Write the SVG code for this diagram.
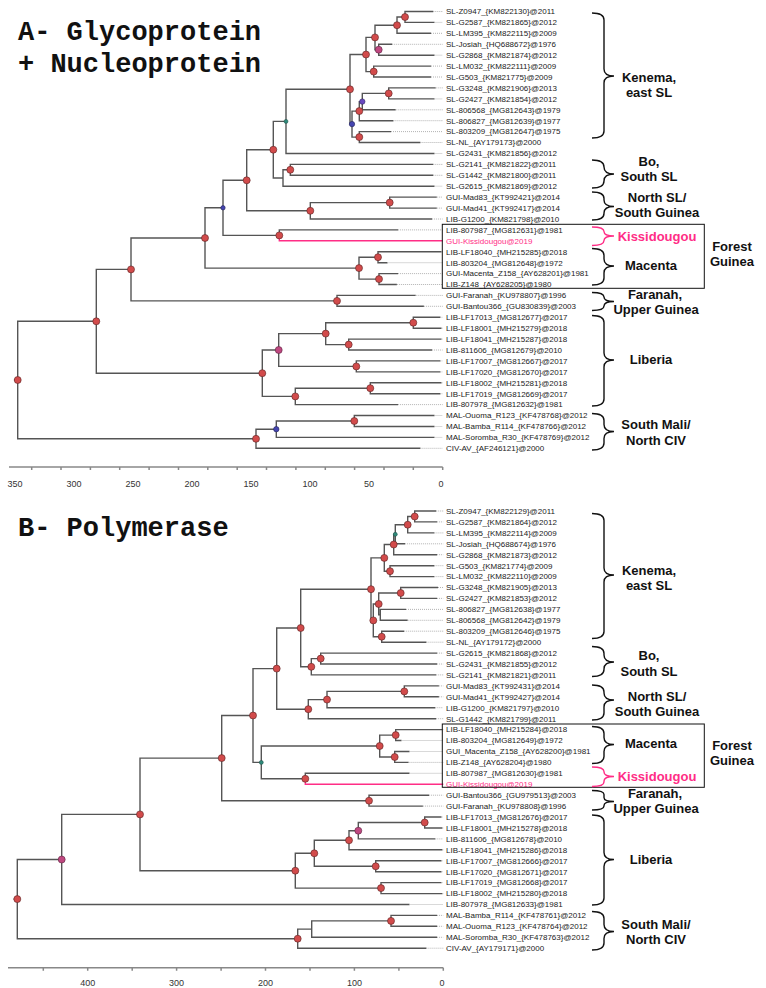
<svg xmlns="http://www.w3.org/2000/svg" width="766" height="988" viewBox="0 0 766 988">
<style>
.br{fill:none;stroke:#555;stroke-width:1.4}
.dt{fill:none;stroke:#aaa;stroke-width:0.9;stroke-dasharray:1 1}
.pk{fill:none;stroke:#ff2d86;stroke-width:1.4}
.n{fill:#d24b4b;stroke:#5b2323;stroke-width:0.6}
.m{fill:#c04880;stroke:#5b2340;stroke-width:0.6}
.bl{fill:#4646b0;stroke:#22225b;stroke-width:0.6}
.pu{fill:#6a4ac0;stroke:#2f2260;stroke-width:0.6}
.tl{fill:#2f8a7a;stroke:#1d4d45;stroke-width:0.5}
.tip{font-family:"Liberation Sans",Arial,sans-serif;font-size:8px;fill:#222}
.tipk{font-family:"Liberation Sans",Arial,sans-serif;font-size:8px;fill:#ff2d86}
.grp{font-family:"Liberation Sans",Arial,sans-serif;font-size:13px;font-weight:bold;fill:#111;text-anchor:middle}
.grpk{font-family:"Liberation Sans",Arial,sans-serif;font-size:13px;font-weight:bold;fill:#ff2d86;text-anchor:middle}
.brc{fill:none;stroke:#111;stroke-width:1.4}
.brck{fill:none;stroke:#ff2d86;stroke-width:1.4}
.box{fill:none;stroke:#111;stroke-width:1}
.ax{fill:none;stroke:#888;stroke-width:1.5}
.axl{font-family:"Liberation Sans",Arial,sans-serif;font-size:9px;fill:#333;text-anchor:middle}
.title{font-family:"Liberation Mono","Courier New",monospace;font-size:27px;font-weight:bold;fill:#111}
</style>
<rect width="766" height="988" fill="#fff"/>

<!-- ================= PANEL A ================= -->
<g id="titleA">
<text class="title" x="18" y="40">A- Glycoprotein</text>
<text class="title" x="18" y="72">+ Nucleoprotein</text>
</g>

<g id="connectorsA">
<path class="br" d="M433.3 11.5H405V22.4H434.5M405 17H397V33.3H431M392.2 44.3H378.7V55.2H434.5M397 25.2H375V49.7H378.7M431 66.1H373.7V77H431M375 37.4H366V71.6H373.7M435.7 87.9H388.7V98.9H434.5M388.7 93.4H362.3V109.8H395.7M362.3 101.6H359.3V120.7H393.4M391 131.6H359.3V142.5H420.4M359.3 111.1H352V137.1H359.3M366 54.5H350V124.1H352M350 89.3H286V153.5H434.5M433.3 164.4H290.3V175.3H433.3M290.3 169.8H283V186.2H434.5M286 121.4H273.3V178H283M436.8 197.1H389.7V208.1H436.8M389.7 202.6H310.3V219H432.1M273.3 149.7H246.7V210.8H310.3M398.1 229.9H279.3V235.4M246.7 180.3H223V235.4H279.3M441.5 251.7H378V262.7H387.5M398.1 273.6H379V284.5H396.9M378 257.2H359V279.1H379M223 207.8H205V268.1H359M415.7 295.4H337V306.3H423.9M205 238H131V300.9H337M440.4 317.3H413.3V328.2H441.5M441.5 339.1H348.7V350H432.1M413.3 322.7H325.7V344.6H348.7M440.4 360.9H356.3V371.9H440.4M325.7 333.6H278.7V366.4H356.3M441.5 382.8H370.3V393.7H440.4M370.3 388.2H295.3V404.6H398.1M278.7 350H262.3V396.4H295.3M131 269.4H96.3V373.2H262.3M434.5 415.5H354.3V426.5H434.5M354.3 421H276.3V437.4H434.5M276.3 429.2H256V448.3H420.4M96.3 321.3H17.7V438.8H256M14 380H17.7"/>
<path class="pk" d="M279.3 235.4V240.8H442.7"/>
<path class="dt" d="M433.3 11.5H442.7M434.5 22.4H442.7M431 33.3H442.7M392.2 44.3H442.7M434.5 55.2H442.7M431 66.1H442.7M431 77H442.7M435.7 87.9H442.7M434.5 98.9H442.7M395.7 109.8H442.7M393.4 120.7H442.7M391 131.6H442.7M420.4 142.5H442.7M434.5 153.5H442.7M433.3 164.4H442.7M433.3 175.3H442.7M434.5 186.2H442.7M436.8 197.1H442.7M436.8 208.1H442.7M432.1 219H442.7M398.1 229.9H442.7M441.5 251.7H442.7M387.5 262.7H442.7M398.1 273.6H442.7M396.9 284.5H442.7M415.7 295.4H442.7M423.9 306.3H442.7M440.4 317.3H442.7M441.5 328.2H442.7M441.5 339.1H442.7M432.1 350H442.7M440.4 360.9H442.7M440.4 371.9H442.7M441.5 382.8H442.7M440.4 393.7H442.7M398.1 404.6H442.7M434.5 415.5H442.7M434.5 426.5H442.7M434.5 437.4H442.7M420.4 448.3H442.7"/>
</g>

<g id="nodesA">
<circle id="a1" class="n" cx="405" cy="17" r="3.5"/>
<circle id="a2" class="n" cx="397" cy="25.2" r="3.5"/>
<circle id="a3" class="m" cx="378.7" cy="49.7" r="3.5"/>
<circle id="a4" class="n" cx="375" cy="37.4" r="3.5"/>
<circle id="a5" class="n" cx="373.7" cy="71.6" r="3.5"/>
<circle id="a6" class="n" cx="366" cy="54.5" r="3.5"/>
<circle id="a7" class="n" cx="388.7" cy="93.4" r="3.5"/>
<circle id="a8" class="pu" cx="362.3" cy="101.6" r="2.7"/>
<circle id="a9" class="n" cx="359.3" cy="111.1" r="3.5"/>
<circle id="a10" class="n" cx="359.3" cy="137.1" r="3.5"/>
<circle id="a11" class="bl" cx="352" cy="124.1" r="2.7"/>
<circle id="a12" class="n" cx="350" cy="89.3" r="3.5"/>
<circle id="a13" class="tl" cx="286" cy="121.4" r="2"/>
<circle id="a14" class="n" cx="290.3" cy="169.8" r="3.5"/>
<circle id="a16" class="n" cx="273.3" cy="149.7" r="3.5"/>
<circle id="a17" class="n" cx="389.7" cy="202.6" r="3.5"/>
<circle id="a18" class="n" cx="310.3" cy="210.8" r="3.5"/>
<circle id="a19" class="n" cx="246.7" cy="180.3" r="3.5"/>
<circle id="a20" class="n" cx="279.3" cy="235.4" r="3.5"/>
<circle id="a21" class="bl" cx="223" cy="207.8" r="2.2"/>
<circle id="a22" class="n" cx="378" cy="257.2" r="3.5"/>
<circle id="a23" class="n" cx="379" cy="279.1" r="3.5"/>
<circle id="a24" class="n" cx="359" cy="268.1" r="3.5"/>
<circle id="a25" class="n" cx="205" cy="238" r="3.5"/>
<circle id="a26" class="n" cx="337" cy="300.9" r="3.5"/>
<circle id="a27" class="n" cx="131" cy="269.4" r="3.5"/>
<circle id="a28" class="n" cx="413.3" cy="322.7" r="3.5"/>
<circle id="a29" class="n" cx="348.7" cy="344.6" r="3.5"/>
<circle id="a30" class="n" cx="325.7" cy="333.6" r="3.5"/>
<circle id="a31" class="n" cx="356.3" cy="366.4" r="3.5"/>
<circle id="a32" class="m" cx="278.7" cy="350" r="3.5"/>
<circle id="a33" class="n" cx="370.3" cy="388.2" r="3.5"/>
<circle id="a34" class="n" cx="295.3" cy="396.4" r="3.5"/>
<circle id="a35" class="n" cx="262.3" cy="373.2" r="3.5"/>
<circle id="a36" class="n" cx="96.3" cy="321.3" r="3.5"/>
<circle id="a37" class="n" cx="354.3" cy="421" r="3.5"/>
<circle id="a38" class="bl" cx="276.3" cy="429.2" r="2.7"/>
<circle id="a39" class="n" cx="256" cy="438.8" r="3.5"/>
<circle id="a40" class="n" cx="17.7" cy="380" r="3.5"/>
</g>

<g id="tipsA">
<text class="tip" x="446" y="14.3">SL-Z0947_{KM822130}@2011</text>
<text class="tip" x="446" y="25.2">SL-G2587_{KM821865}@2012</text>
<text class="tip" x="446" y="36.1">SL-LM395_{KM822115}@2009</text>
<text class="tip" x="446" y="47.1">SL-Josiah_{HQ688672}@1976</text>
<text class="tip" x="446" y="58">SL-G2868_{KM821874}@2012</text>
<text class="tip" x="446" y="68.9">SL-LM032_{KM822111}@2009</text>
<text class="tip" x="446" y="79.8">SL-G503_{KM821775}@2009</text>
<text class="tip" x="446" y="90.7">SL-G3248_{KM821906}@2013</text>
<text class="tip" x="446" y="101.7">SL-G2427_{KM821854}@2012</text>
<text class="tip" x="446" y="112.6">SL-806568_{MG812643}@1979</text>
<text class="tip" x="446" y="123.5">SL-806827_{MG812639}@1977</text>
<text class="tip" x="446" y="134.4">SL-803209_{MG812647}@1975</text>
<text class="tip" x="446" y="145.3">SL-NL_{AY179173}@2000</text>
<text class="tip" x="446" y="156.3">SL-G2431_{KM821856}@2012</text>
<text class="tip" x="446" y="167.2">SL-G2141_{KM821822}@2011</text>
<text class="tip" x="446" y="178.1">SL-G1442_{KM821800}@2011</text>
<text class="tip" x="446" y="189">SL-G2615_{KM821869}@2012</text>
<text class="tip" x="446" y="199.9">GUI-Mad83_{KT992421}@2014</text>
<text class="tip" x="446" y="210.9">GUI-Mad41_{KT992417}@2014</text>
<text class="tip" x="446" y="221.8">LIB-G1200_{KM821798}@2010</text>
<text class="tip" x="446" y="232.7">LIB-807987_{MG812631}@1981</text>
<text class="tipk" x="446" y="243.6">GUI-Kissidougou@2019</text>
<text class="tip" x="446" y="254.5">LIB-LF18040_{MH215285}@2018</text>
<text class="tip" x="446" y="265.5">LIB-803204_{MG812648}@1972</text>
<text class="tip" x="446" y="276.4">GUI-Macenta_Z158_{AY628201}@1981</text>
<text class="tip" x="446" y="287.3">LIB-Z148_{AY628205}@1980</text>
<text class="tip" x="446" y="298.2">GUI-Faranah_{KU978807}@1996</text>
<text class="tip" x="446" y="309.1">GUI-Bantou366_{GU830839}@2003</text>
<text class="tip" x="446" y="320.1">LIB-LF17013_{MG812677}@2017</text>
<text class="tip" x="446" y="331">LIB-LF18001_{MH215279}@2018</text>
<text class="tip" x="446" y="341.9">LIB-LF18041_{MH215287}@2018</text>
<text class="tip" x="446" y="352.8">LIB-811606_{MG812679}@2010</text>
<text class="tip" x="446" y="363.7">LIB-LF17007_{MG812667}@2017</text>
<text class="tip" x="446" y="374.7">LIB-LF17020_{MG812670}@2017</text>
<text class="tip" x="446" y="385.6">LIB-LF18002_{MH215281}@2018</text>
<text class="tip" x="446" y="396.5">LIB-LF17019_{MG812669}@2017</text>
<text class="tip" x="446" y="407.4">LIB-807978_{MG812632}@1981</text>
<text class="tip" x="446" y="418.3">MAL-Ouoma_R123_{KF478768}@2012</text>
<text class="tip" x="446" y="429.3">MAL-Bamba_R114_{KF478766}@2012</text>
<text class="tip" x="446" y="440.2">MAL-Soromba_R30_{KF478769}@2012</text>
<text class="tip" x="446" y="451.1">CIV-AV_{AF246121}@2000</text>
</g>

<g id="axisA">
<path class="ax" d="M9 467H442.7"/>
<path class="ax" d="M442.7 467v3M413.3 467v3M384 467v3M354.6 467v3M325.3 467v3M295.9 467v3M266.5 467v3M237.2 467v3M207.8 467v3M178.5 467v3M149.1 467v3M119.7 467v3M90.4 467v3M61 467v3M31.7 467v3"/>
<text class="axl" x="15" y="487">350</text>
<text class="axl" x="74" y="487">300</text>
<text class="axl" x="133" y="487">250</text>
<text class="axl" x="192" y="487">200</text>
<text class="axl" x="251" y="487">150</text>
<text class="axl" x="310" y="487">100</text>
<text class="axl" x="369" y="487">50</text>
<text class="axl" x="441" y="487">0</text>
</g>

<g id="boxA"><rect class="box" x="442.3" y="224.3" width="262" height="64"/></g>
<g id="grpA-kenema"><path class="brc" d="M592 13Q604 13 604 20V69Q604 76 614 76Q604 76 604 83V131Q604 138 592 138"/><text class="grp" x="649" y="82">Kenema,</text><text class="grp" x="649" y="97">east SL</text></g>
<g id="grpA-bo"><path class="brc" d="M592 160Q604 160 604 167Q604 174 614 174Q604 174 604 181Q604 188 592 188"/><text class="grp" x="649" y="166">Bo,</text><text class="grp" x="649" y="181">South SL</text></g>
<g id="grpA-north"><path class="brc" d="M592 192Q604 192 604 198.5V200Q604 206.5 614 206.5Q604 206.5 604 213V213.5Q604 220 592 220"/><text class="grp" x="657" y="202">North SL/</text><text class="grp" x="657" y="217">South Guinea</text></g>
<g id="grpA-kiss"><path class="brck" d="M592 227Q604 227 604 231.5Q604 236 614 236Q604 236 604 240.5Q604 245.5 592 245.5"/><text class="grpk" x="657" y="240.5">Kissidougou</text></g>
<g id="grpA-macenta"><path class="brc" d="M592 248.5Q604 248.5 604 255.5V259Q604 266 614 266Q604 266 604 273V278Q604 285 592 285"/><text class="grp" x="651" y="270">Macenta</text></g>
<g id="grpA-forest"><text class="grp" x="732" y="250.5">Forest</text><text class="grp" x="732" y="265.5">Guinea</text></g>
<g id="grpA-faranah"><path class="brc" d="M592 292.5Q604 292.5 604 297Q604 301.5 614 301.5Q604 301.5 604 306Q604 310.5 592 310.5"/><text class="grp" x="655" y="298.5">Faranah,</text><text class="grp" x="656" y="313.5">Upper Guinea</text></g>
<g id="grpA-liberia"><path class="brc" d="M592 315.5Q604 315.5 604 322.5V353Q604 360 614 360Q604 360 604 367V399Q604 406 592 406"/><text class="grp" x="651" y="363.5">Liberia</text></g>
<g id="grpA-mali"><path class="brc" d="M592 413.5Q604 413.5 604 420.5V424.5Q604 431.5 614 431.5Q604 431.5 604 438.5V443Q604 450 592 450"/><text class="grp" x="656" y="428.5">South Mali/</text><text class="grp" x="656" y="444.5">North CIV</text></g>

<!-- ================= PANEL B ================= -->
<g id="titleB"><text class="title" x="18" y="536">B- Polymerase</text></g>

<g id="connectorsB">
<path class="br" d="M436.2 511H414.7V521.9H437.1M414.7 516.5H407.7V532.9H434.4M407.7 524.7H395.3V543.8H405.1M395.3 534.3H393.7V554.7H437.1M434.4 565.7H390V576.6H434.4M393.7 544.5H384.3V571.2H390M438 587.5H400.7V598.4H437.1M406 609.4H380.3V620.3H407.7M400.7 593H378.7V614.9H380.3M404.2 631.2H381.7V642.2H426.4M378.7 604H373.3V636.7H381.7M384.3 557.9H371V620.4H373.3M437.1 653.1H320.7V664H437.1M320.7 658.6H311.3V674.9H436.2M371 589.2H300.7V666.8H311.3M438.9 685.9H404.3V696.8H438.9M404.3 691.4H327V707.7H435.3M327 699.6H308.3V718.7H436.2M300.7 628H276.7V709.2H308.3M442.4 729.6H395.7V740.5H401.5M409.5 751.5H394.7V762.4H408.6M395.7 735.1H379.7V757H394.7M409.5 773.3H305.3V778.8M379.7 746H261.3V778.8H305.3M276.7 668.6H253V762.4H261.3M429.1 795.2H369V806.1H422.9M253 715.5H221.7V800.7H369M441.5 817H424.7V828H442.4M424.7 822.5H358.3V838.9H435.3M358.3 830.7H349V849.8H442.4M441.5 860.8H375.7V871.7H441.5M349 840.3H314.3V866.3H375.7M441.5 882.6H381V893.6H442.4M314.3 853.3H295.3V888.1H381M221.7 758.1H140V870.7H295.3M140 814.4H61.7V904.5H409.5M437.1 915.4H391V926.3H437.1M391 920.9H311.7V937.3H437.1M311.7 929.1H297.7V948.2H426.4M61.7 859.5H17.3V938.7H297.7M13.5 899.1H17.3"/>
<path class="pk" d="M305.3 778.8V784.3H443.3"/>
<path class="dt" d="M436.2 511H443.3M437.1 521.9H443.3M434.4 532.9H443.3M405.1 543.8H443.3M437.1 554.7H443.3M434.4 565.7H443.3M434.4 576.6H443.3M438 587.5H443.3M437.1 598.4H443.3M406 609.4H443.3M407.7 620.3H443.3M404.2 631.2H443.3M426.4 642.2H443.3M437.1 653.1H443.3M437.1 664H443.3M436.2 674.9H443.3M438.9 685.9H443.3M438.9 696.8H443.3M435.3 707.7H443.3M436.2 718.7H443.3M442.4 729.6H443.3M401.5 740.5H443.3M409.5 751.5H443.3M408.6 762.4H443.3M409.5 773.3H443.3M429.1 795.2H443.3M422.9 806.1H443.3M441.5 817H443.3M442.4 828H443.3M435.3 838.9H443.3M442.4 849.8H443.3M441.5 860.8H443.3M441.5 871.7H443.3M441.5 882.6H443.3M442.4 893.6H443.3M409.5 904.5H443.3M437.1 915.4H443.3M437.1 926.3H443.3M437.1 937.3H443.3M426.4 948.2H443.3"/>
</g>

<g id="nodesB">
<circle id="b1" class="n" cx="414.7" cy="516.5" r="3.5"/>
<circle id="b2" class="n" cx="407.7" cy="524.7" r="3.5"/>
<circle id="b3" class="tl" cx="395.3" cy="534.3" r="2"/>
<circle id="b4" class="n" cx="393.7" cy="544.5" r="3.5"/>
<circle id="b5" class="n" cx="390" cy="571.2" r="3.5"/>
<circle id="b6" class="n" cx="384.3" cy="557.9" r="3.5"/>
<circle id="b7" class="n" cx="400.7" cy="593" r="3.5"/>
<circle id="b9" class="n" cx="378.7" cy="604" r="3.5"/>
<circle id="b10" class="n" cx="381.7" cy="636.7" r="3.5"/>
<circle id="b11" class="n" cx="373.3" cy="620.4" r="3.5"/>
<circle id="b12" class="n" cx="371" cy="589.2" r="3.5"/>
<circle id="b13" class="n" cx="320.7" cy="658.6" r="3.5"/>
<circle id="b14" class="n" cx="311.3" cy="666.8" r="3.5"/>
<circle id="b15" class="n" cx="300.7" cy="628" r="3.5"/>
<circle id="b16" class="n" cx="404.3" cy="691.4" r="3.5"/>
<circle id="b17" class="n" cx="327" cy="699.6" r="3.5"/>
<circle id="b18" class="n" cx="308.3" cy="709.2" r="3.5"/>
<circle id="b19" class="n" cx="276.7" cy="668.6" r="3.5"/>
<circle id="b20" class="n" cx="395.7" cy="735.1" r="3.5"/>
<circle id="b21" class="n" cx="394.7" cy="757" r="3.5"/>
<circle id="b22" class="n" cx="379.7" cy="746" r="3.5"/>
<circle id="b23" class="n" cx="305.3" cy="778.8" r="3.5"/>
<circle id="b24" class="tl" cx="261.3" cy="762.4" r="2"/>
<circle id="b25" class="n" cx="253" cy="715.5" r="3.5"/>
<circle id="b26" class="n" cx="369" cy="800.7" r="3.5"/>
<circle id="b27" class="n" cx="221.7" cy="758.1" r="3.5"/>
<circle id="b28" class="n" cx="424.7" cy="822.5" r="3.5"/>
<circle id="b29" class="m" cx="358.3" cy="830.7" r="3.5"/>
<circle id="b30" class="n" cx="349" cy="840.3" r="3.5"/>
<circle id="b31" class="n" cx="375.7" cy="866.3" r="3.5"/>
<circle id="b32" class="n" cx="314.3" cy="853.3" r="3.5"/>
<circle id="b33" class="n" cx="381" cy="888.1" r="3.5"/>
<circle id="b34" class="n" cx="295.3" cy="870.7" r="3.5"/>
<circle id="b35" class="n" cx="140" cy="814.4" r="3.5"/>
<circle id="b36" class="m" cx="61.7" cy="859.5" r="3.5"/>
<circle id="b37" class="n" cx="391" cy="920.9" r="3.5"/>
<circle id="b39" class="n" cx="297.7" cy="938.7" r="3.5"/>
<circle id="b40" class="n" cx="17.3" cy="899.1" r="3.5"/>
</g>

<g id="tipsB">
<text class="tip" x="446" y="513.8">SL-Z0947_{KM822129}@2011</text>
<text class="tip" x="446" y="524.7">SL-G2587_{KM821864}@2012</text>
<text class="tip" x="446" y="535.7">SL-LM395_{KM822114}@2009</text>
<text class="tip" x="446" y="546.6">SL-Josiah_{HQ688674}@1976</text>
<text class="tip" x="446" y="557.5">SL-G2868_{KM821873}@2012</text>
<text class="tip" x="446" y="568.5">SL-G503_{KM821774}@2009</text>
<text class="tip" x="446" y="579.4">SL-LM032_{KM822110}@2009</text>
<text class="tip" x="446" y="590.3">SL-G3248_{KM821905}@2013</text>
<text class="tip" x="446" y="601.2">SL-G2427_{KM821853}@2012</text>
<text class="tip" x="446" y="612.2">SL-806827_{MG812638}@1977</text>
<text class="tip" x="446" y="623.1">SL-806568_{MG812642}@1979</text>
<text class="tip" x="446" y="634">SL-803209_{MG812646}@1975</text>
<text class="tip" x="446" y="645">SL-NL_{AY179172}@2000</text>
<text class="tip" x="446" y="655.9">SL-G2615_{KM821868}@2012</text>
<text class="tip" x="446" y="666.8">SL-G2431_{KM821855}@2012</text>
<text class="tip" x="446" y="677.7">SL-G2141_{KM821821}@2011</text>
<text class="tip" x="446" y="688.7">GUI-Mad83_{KT992431}@2014</text>
<text class="tip" x="446" y="699.6">GUI-Mad41_{KT992427}@2014</text>
<text class="tip" x="446" y="710.5">LIB-G1200_{KM821797}@2010</text>
<text class="tip" x="446" y="721.5">SL-G1442_{KM821799}@2011</text>
<text class="tip" x="446" y="732.4">LIB-LF18040_{MH215284}@2018</text>
<text class="tip" x="446" y="743.3">LIB-803204_{MG812649}@1972</text>
<text class="tip" x="446" y="754.3">GUI_Macenta_Z158_{AY628200}@1981</text>
<text class="tip" x="446" y="765.2">LIB-Z148_{AY628204}@1980</text>
<text class="tip" x="446" y="776.1">LIB-807987_{MG812630}@1981</text>
<text class="tipk" x="446" y="787.1">GUI-Kissidougou@2019</text>
<text class="tip" x="446" y="798">GUI-Bantou366_{GU979513}@2003</text>
<text class="tip" x="446" y="808.9">GUI-Faranah_{KU978808}@1996</text>
<text class="tip" x="446" y="819.8">LIB-LF17013_{MG812676}@2017</text>
<text class="tip" x="446" y="830.8">LIB-LF18001_{MH215278}@2018</text>
<text class="tip" x="446" y="841.7">LIB-811606_{MG812678}@2010</text>
<text class="tip" x="446" y="852.6">LIB-LF18041_{MH215286}@2018</text>
<text class="tip" x="446" y="863.6">LIB-LF17007_{MG812666}@2017</text>
<text class="tip" x="446" y="874.5">LIB-LF17020_{MG812671}@2017</text>
<text class="tip" x="446" y="885.4">LIB-LF17019_{MG812668}@2017</text>
<text class="tip" x="446" y="896.4">LIB-LF18002_{MH215280}@2018</text>
<text class="tip" x="446" y="907.3">LIB-807978_{MG812633}@1981</text>
<text class="tip" x="446" y="918.2">MAL-Bamba_R114_{KF478761}@2012</text>
<text class="tip" x="446" y="929.1">MAL-Ouoma_R123_{KF478764}@2012</text>
<text class="tip" x="446" y="940.1">MAL-Soromba_R30_{KF478763}@2012</text>
<text class="tip" x="446" y="951">CIV-AV_{AY179171}@2000</text>
</g>

<g id="axisB">
<path class="ax" d="M8 967.7H443.3"/>
<path class="ax" d="M443.3 967.7v3M398.9 967.7v3M354.4 967.7v3M310 967.7v3M265.5 967.7v3M221.1 967.7v3M176.6 967.7v3M132.2 967.7v3M87.7 967.7v3M43.3 967.7v3"/>
<text class="axl" x="87.7" y="986">400</text>
<text class="axl" x="176.6" y="986">300</text>
<text class="axl" x="265.5" y="986">200</text>
<text class="axl" x="354.4" y="986">100</text>
<text class="axl" x="442" y="986">0</text>
</g>

<g id="boxB"><rect class="box" x="442.3" y="724" width="262" height="63.3"/></g>
<g id="grpB-kenema"><path class="brc" d="M592 513.5Q604 513.5 604 520.5V568Q604 575 614 575Q604 575 604 582V631.5Q604 638.5 592 638.5"/><text class="grp" x="649" y="574.5">Kenema,</text><text class="grp" x="649" y="589.5">east SL</text></g>
<g id="grpB-bo"><path class="brc" d="M592 646.5Q604 646.5 604 653.5V655Q604 662 614 662Q604 662 604 669V669.5Q604 676.5 592 676.5"/><text class="grp" x="649" y="659.5">Bo,</text><text class="grp" x="649" y="676">South SL</text></g>
<g id="grpB-north"><path class="brc" d="M592 685Q604 685 604 692V693Q604 700 614 700Q604 700 604 707V713Q604 720 592 720"/><text class="grp" x="657" y="701">North SL/</text><text class="grp" x="657" y="716">South Guinea</text></g>
<g id="grpB-macenta"><path class="brc" d="M592 726.5Q604 726.5 604 733.5V737.5Q604 744.5 614 744.5Q604 744.5 604 751.5V756.5Q604 763.5 592 763.5"/><text class="grp" x="651" y="747.5">Macenta</text></g>
<g id="grpB-kiss"><path class="brck" d="M592 767Q604 767 604 771.5V772Q604 776.5 614 776.5Q604 776.5 604 781V782Q604 786.5 592 786.5"/><text class="grpk" x="657" y="781">Kissidougou</text></g>
<g id="grpB-forest"><text class="grp" x="732" y="750">Forest</text><text class="grp" x="732" y="764.5">Guinea</text></g>
<g id="grpB-faranah"><path class="brc" d="M592 790.5Q604 790.5 604 794.5V797.5Q604 801.5 614 801.5Q604 801.5 604 805.5V806Q604 810 592 810"/><text class="grp" x="655" y="797.5">Faranah,</text><text class="grp" x="656" y="812.5">Upper Guinea</text></g>
<g id="grpB-liberia"><path class="brc" d="M592 815Q604 815 604 822V852.5Q604 859.5 614 859.5Q604 859.5 604 866.5V898Q604 905 592 905"/><text class="grp" x="651" y="863.5">Liberia</text></g>
<g id="grpB-mali"><path class="brc" d="M592 911.5Q604 911.5 604 918.5V924.5Q604 931.5 614 931.5Q604 931.5 604 938.5V943Q604 950 592 950"/><text class="grp" x="656" y="928.5">South Mali/</text><text class="grp" x="656" y="943.5">North CIV</text></g>
</svg>
